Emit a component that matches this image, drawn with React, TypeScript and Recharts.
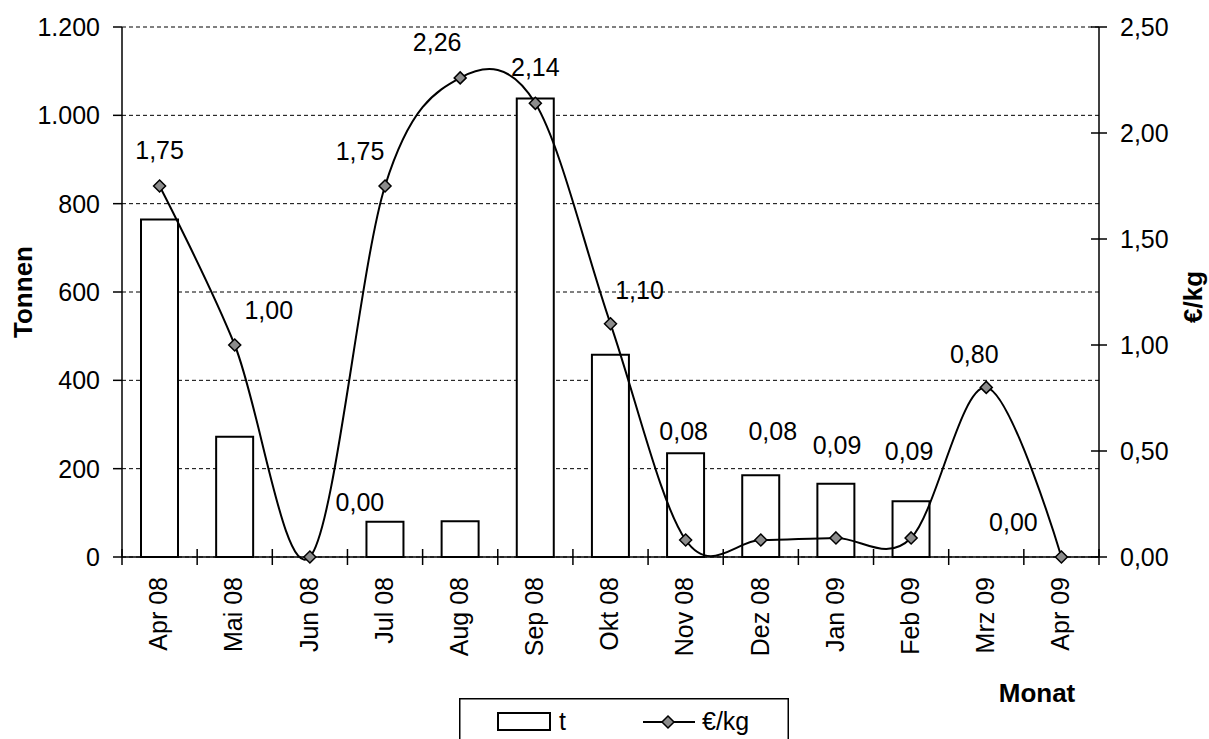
import React from "react"
import { ComposedChart, Bar, Line, XAxis, YAxis, CartesianGrid, Legend, LabelList } from "recharts"

const months = ["Apr 08", "Mai 08", "Jun 08", "Jul 08", "Aug 08", "Sep 08", "Okt 08", "Nov 08", "Dez 08", "Jan 09", "Feb 09", "Mrz 09", "Apr 09"]
const tonnes = [764, 272, 0, 80, 81, 1038, 458, 235, 185, 166, 126, 0, 0]
const pricePerKg = [1.75, 1.0, 0.0, 1.75, 2.26, 2.14, 1.1, 0.08, 0.08, 0.09, 0.09, 0.8, 0.0]
const tonTicks = [0, 200, 400, 600, 800, 1000, 1200]
const priceTicks = [0, 0.5, 1, 1.5, 2, 2.5]

const SERIES_T = "t"
const SERIES_P = "€/kg"

// data labels were dragged around by hand in the original sheet: [dx, dy] from the point
const labelOffsets = [
  [0, -36], [34, -35], [50, -55], [-25, -35], [-23, -36], [0, -36], [29, -34],
  [-2, -109], [12, -109], [1, -93], [-2, -87], [-12, -33], [-48, -35],
]

const W = 1209
const H = 739
const PLOT_LEFT = 122
const PLOT_RIGHT = 1099
const PLOT_TOP = 27
const PLOT_BOTTOM = 557
const BAND = (PLOT_RIGHT - PLOT_LEFT) / months.length
const FONT = "'Liberation Sans', Arial, sans-serif"

const data = months.map((m, i) => ({ month: m, t: tonnes[i], p: pricePerKg[i] }))

const fmtTon = (v: number) => String(v).replace(/\B(?=(\d{3})+(?!\d))/g, ".")
const fmtPrice = (v: number) => Number(v).toFixed(2).replace(".", ",")

// Excel-style smoothed line (Catmull-Rom, same as d3 curveCardinal tension 0)
function excelSmooth(context: any) {
  const k = 1 / 6
  let x0: number, x1: number, x2: number, y0: number, y1: number, y2: number
  let pt = 0
  let line: number = NaN
  const seg = (x: number, y: number) => {
    context.bezierCurveTo(x1 + k * (x2 - x0), y1 + k * (y2 - y0), x2 + k * (x1 - x), y2 + k * (y1 - y), x2, y2)
  }
  return {
    areaStart() { line = 0 },
    areaEnd() { line = NaN },
    lineStart() { x0 = x1 = x2 = y0 = y1 = y2 = NaN; pt = 0 },
    lineEnd() {
      if (pt === 2) context.lineTo(x2, y2)
      else if (pt === 3) seg(x1, y1)
      if (line || (line !== 0 && pt === 1)) context.closePath()
      line = 1 - line
    },
    point(x: number, y: number) {
      x = +x; y = +y
      if (pt === 0) { pt = 1; line ? context.lineTo(x, y) : context.moveTo(x, y) }
      else if (pt === 1) { pt = 2; x1 = x; y1 = y }
      else { if (pt === 2) pt = 3; seg(x, y) }
      x0 = x1; x1 = x2; x2 = x
      y0 = y1; y1 = y2; y2 = y
    },
  }
}

function MonthTick(props: any) {
  const { x, payload } = props
  const index = props.index ?? payload.index
  const left = x - BAND / 2
  return (
    <g>
      <line x1={left} x2={left} y1={PLOT_BOTTOM - 8} y2={PLOT_BOTTOM + 8} stroke="#000" strokeWidth={1.5} />
      {index === months.length - 1 && (
        <line x1={x + BAND / 2} x2={x + BAND / 2} y1={PLOT_BOTTOM - 8} y2={PLOT_BOTTOM + 8} stroke="#000" strokeWidth={1.5} />
      )}
      <text
        transform={`translate(${x - 1},${PLOT_BOTTOM + 20}) rotate(-90)`}
        textAnchor="end"
        dy="0.35em"
        fontSize={25}
        fontFamily={FONT}
        fill="#000"
      >
        {payload.value}
      </text>
    </g>
  )
}

function PriceTick(props: any) {
  const { y, payload } = props
  return (
    <g>
      <line x1={PLOT_RIGHT - 8} x2={PLOT_RIGHT + 8} y1={y} y2={y} stroke="#000" strokeWidth={1.5} />
      <text x={PLOT_RIGHT + 21} y={y} dy="0.35em" textAnchor="start" fontSize={25} fontFamily={FONT} fill="#000">
        {fmtPrice(payload.value)}
      </text>
    </g>
  )
}

function Diamond(props: any) {
  const { cx, cy } = props
  if (cx == null || cy == null) return null
  const r = 6
  return (
    <path
      d={`M${cx},${cy - r}L${cx + r},${cy}L${cx},${cy + r}L${cx - r},${cy}Z`}
      fill="#8c8c8c"
      stroke="#000"
      strokeWidth={1.5}
    />
  )
}

function PriceLabel(props: any) {
  const { x, y, value, index } = props
  const [dx, dy] = labelOffsets[index] ?? [0, -36]
  return (
    <text x={x + dx} y={y + dy} dy="0.35em" textAnchor="middle" fontSize={25} fontFamily={FONT} fill="#000">
      {fmtPrice(value)}
    </text>
  )
}

function LegendBox() {
  return (
    <svg width={330} height={60} style={{ display: "block" }}>
      <rect x={0.75} y={0.75} width={328.5} height={80} fill="#fff" stroke="#000" strokeWidth={1.5} />
      <rect x={39} y={15} width={52} height={17} fill="#fff" stroke="#000" strokeWidth={2} />
      <text x={100} y={32} fontSize={25} fontFamily={FONT} fill="#000">{SERIES_T}</text>
      <line x1={184} x2={236} y1={24} y2={24} stroke="#000" strokeWidth={2} />
      <Diamond cx={209} cy={24} />
      <text x={243} y={32} fontSize={25} fontFamily={FONT} fill="#000">{SERIES_P}</text>
    </svg>
  )
}

export default function App() {
  return (
    <div style={{ position: "absolute", left: 0, top: 0, width: W, height: H, overflow: "hidden", background: "#fff" }}>
      <ComposedChart width={W} height={H} data={data} margin={{ top: PLOT_TOP, right: 0, bottom: 0, left: 0 }}>
        <CartesianGrid yAxisId="t" vertical={false} stroke="#000" strokeDasharray="4 3" strokeWidth={1} />
        <XAxis
          dataKey="month"
          height={H - PLOT_BOTTOM}
          interval={0}
          tickLine={false}
          axisLine={{ stroke: "#000", strokeWidth: 1.5 }}
          tick={<MonthTick />}
          label={() => (
            <text x={1037} y={702} textAnchor="middle" fontSize={26} fontWeight="bold" fontFamily={FONT} fill="#000">
              Monat
            </text>
          )}
        />
        <YAxis
          yAxisId="t"
          width={PLOT_LEFT}
          domain={[0, 1200]}
          ticks={tonTicks}
          tickFormatter={fmtTon}
          tickSize={9}
          tickMargin={13}
          axisLine={{ stroke: "#000", strokeWidth: 1.5 }}
          tickLine={{ stroke: "#000", strokeWidth: 1.5 }}
          tick={{ fill: "#000", fontSize: 25, fontFamily: FONT }}
          label={() => (
            <text transform="translate(32,292) rotate(-90)" textAnchor="middle" fontSize={26} fontWeight="bold" fontFamily={FONT} fill="#000">
              Tonnen
            </text>
          )}
        />
        <YAxis
          yAxisId="p"
          orientation="right"
          width={W - PLOT_RIGHT}
          domain={[0, 2.5]}
          ticks={priceTicks}
          tickLine={false}
          axisLine={{ stroke: "#000", strokeWidth: 1.5 }}
          tick={<PriceTick />}
          label={() => (
            <text transform="translate(1202,297) rotate(-90)" textAnchor="middle" fontSize={26} fontWeight="bold" fontFamily={FONT} fill="#000">
              €/kg
            </text>
          )}
        />
        <Legend
          layout="horizontal"
          verticalAlign="middle"
          align="center"
          wrapperStyle={{ left: 459, top: 698, width: 330, height: 60 }}
          content={() => <LegendBox />}
        />
        <Bar yAxisId="t" dataKey="t" name={SERIES_T} fill="#fff" stroke="#000" strokeWidth={2} barSize={37} isAnimationActive={false} />
        <Line
          yAxisId="p"
          dataKey="p"
          name={SERIES_P}
          type={excelSmooth as any}
          stroke="#000"
          strokeWidth={2}
          dot={<Diamond />}
          activeDot={false}
          isAnimationActive={false}
        >
          <LabelList dataKey="p" content={<PriceLabel />} />
        </Line>
      </ComposedChart>
    </div>
  )
}
